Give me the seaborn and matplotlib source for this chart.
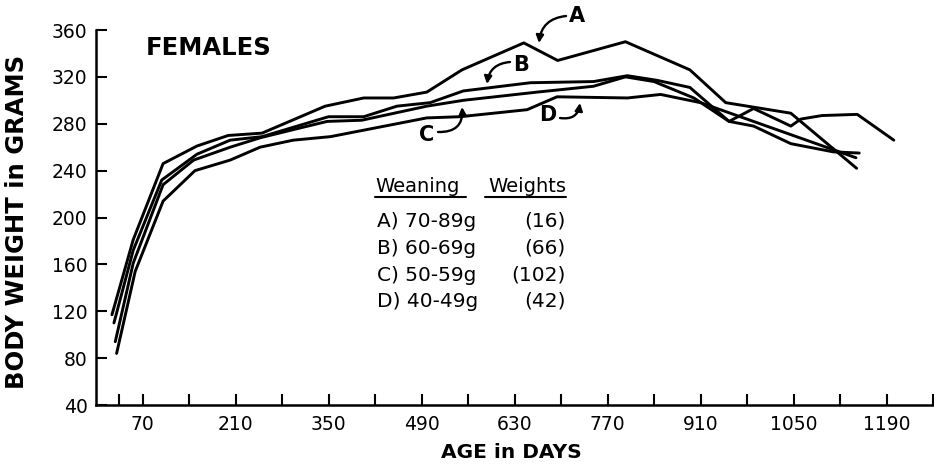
import matplotlib
matplotlib.use("Agg")
import matplotlib.pyplot as plt
import seaborn as sns
import pandas as pd
from matplotlib.lines import Line2D

# ---- data ----
days_A = [24, 56, 101, 152, 199, 250, 345, 403, 448, 498, 551, 644, 695, 797, 894, 948, 1046, 1145]
wt_A = [117, 181, 246, 261, 270, 272, 295, 302, 302, 307, 326, 349, 334, 350, 326, 298, 289, 242]

days_B = [27, 56, 99, 152, 202, 250, 350, 403, 453, 503, 553, 654, 749, 800, 845, 894, 953, 990, 1046, 1061, 1093, 1146, 1201]
wt_B = [110, 172, 232, 254, 266, 269, 286, 286, 295, 298, 308, 315, 316, 321, 317, 311, 282, 293, 278, 284, 287, 288, 266]

days_C = [29, 56, 101, 147, 202, 247, 297, 348, 400, 498, 553, 664, 749, 797, 840, 900, 953, 990, 1046, 1110, 1149]
wt_C = [94, 161, 228, 249, 260, 268, 275, 282, 283, 295, 300, 307, 312, 320, 316, 302, 282, 278, 263, 256, 255]

days_D = [31, 59, 101, 149, 202, 247, 297, 353, 498, 548, 649, 694, 800, 850, 910, 1144]
wt_D = [84, 154, 214, 240, 249, 260, 266, 269, 285, 286, 292, 303, 302, 305, 298, 251]

groups = ["A", "B", "C", "D"]
legend_ranges = ["A) 70-89g", "B) 60-69g", "C) 50-59g", "D) 40-49g"]
legend_counts = ["(16)", "(66)", "(102)", "(42)"]

x_major = [70, 210, 350, 490, 630, 770, 910, 1050, 1190]
x_minor = [35, 140, 280, 420, 560, 700, 840, 980, 1120, 1260]
y_ticks = [40, 80, 120, 160, 200, 240, 280, 320, 360]

# ---- build frame ----
frames = []
for g, d, w in zip(groups, [days_A, days_B, days_C, days_D], [wt_A, wt_B, wt_C, wt_D]):
    frames.append(pd.DataFrame({"day": d, "wt": w, "group": g}))
df = pd.concat(frames, ignore_index=True)

sns.set_style("ticks")
plt.rcParams["font.family"] = ["DejaVu Sans"]
for k in ["text.color", "axes.labelcolor", "xtick.color", "ytick.color", "axes.edgecolor"]:
    plt.rcParams[k] = "black"

W, H = 934, 465
fig = plt.figure(figsize=(W / 100, H / 100), dpi=100)
ax = fig.add_axes([96 / W, 1 - 405 / H, (933 - 96) / W, (405 - 30) / H])


def px(x, y):
    """pixel position in the figure -> figure fraction"""
    return x / W, 1 - y / H


sns.lineplot(data=df, x="day", y="wt", hue="group", units="group",
             palette={g: "black" for g in groups}, estimator=None, sort=False,
             legend=False, linewidth=2.1, ax=ax)

ax.set_xlim(0, 1260)
ax.set_ylim(40, 360)
ax.set_xticks(x_major)
ax.set_xticklabels([str(v) for v in x_major])
ax.set_xticks(x_minor, minor=True)
ax.set_yticks(y_ticks)
ax.set_yticklabels([str(v) for v in y_ticks])
ax.tick_params(axis="both", which="both", direction="in", length=8, width=1.5,
               colors="black", labelsize=13.5)
ax.tick_params(axis="x", pad=7)
ax.tick_params(axis="y", pad=6)
for s in ["top", "right"]:
    ax.spines[s].set_visible(False)
for s in ["left", "bottom"]:
    ax.spines[s].set_linewidth(1.8)
    ax.spines[s].set_color("black")
ax.set_xlabel("")
ax.set_ylabel("")

fig.text(*px(511, 452), "AGE in DAYS", ha="center", va="center",
         fontsize=14.5, fontweight="bold")
fig.text(*px(17, 222), "BODY WEIGHT in GRAMS", ha="center", va="center",
         rotation=90, fontsize=17.5, fontweight="bold")

fig.text(*px(146, 48), "FEMALES", ha="left", va="center",
         fontsize=17.5, fontweight="bold")

# curve labels and curved arrows (pixel positions of label, arrow start, arrow tip)
labels_px = {"A": (577, 16), "B": (521, 65), "C": (427, 135), "D": (548, 115)}
arrow_start_px = {"A": (566, 16), "B": (510, 62), "C": (438, 132), "D": (560, 118)}
arrow_tip_px = {"A": (539, 43), "B": (487, 84), "C": (462, 107), "D": (580, 103)}
arrow_rad = {"A": 0.4, "B": 0.4, "C": 0.55, "D": 0.5}

for g in groups:
    fig.text(*px(*labels_px[g]), g, ha="center", va="center", fontsize=15,
             fontweight="bold")
    ax.annotate("", xy=px(*arrow_tip_px[g]), xycoords="figure fraction",
                xytext=px(*arrow_start_px[g]), textcoords="figure fraction",
                annotation_clip=False,
                arrowprops=dict(arrowstyle="-|>", color="black", lw=1.7,
                                mutation_scale=11, shrinkA=0, shrinkB=0,
                                connectionstyle=f"arc3,rad={arrow_rad[g]}"))

# legend-like text block
fig.text(*px(375, 186), "Weaning", ha="left", va="center", fontsize=14)
fig.text(*px(566, 186), "Weights", ha="right", va="center", fontsize=14)
fig.add_artist(Line2D([375 / W, 466 / W], [1 - 197 / H] * 2, color="black", lw=1.5))
fig.add_artist(Line2D([485 / W, 566 / W], [1 - 197 / H] * 2, color="black", lw=1.5))
row_y = [221, 248, 275, 301]
for ry, lr, lc in zip(row_y, legend_ranges, legend_counts):
    fig.text(*px(377, ry), lr, ha="left", va="center", fontsize=14.5)
    fig.text(*px(566, ry), lc, ha="right", va="center", fontsize=14.5)

fig.savefig("out.png", dpi=100, facecolor="white")
